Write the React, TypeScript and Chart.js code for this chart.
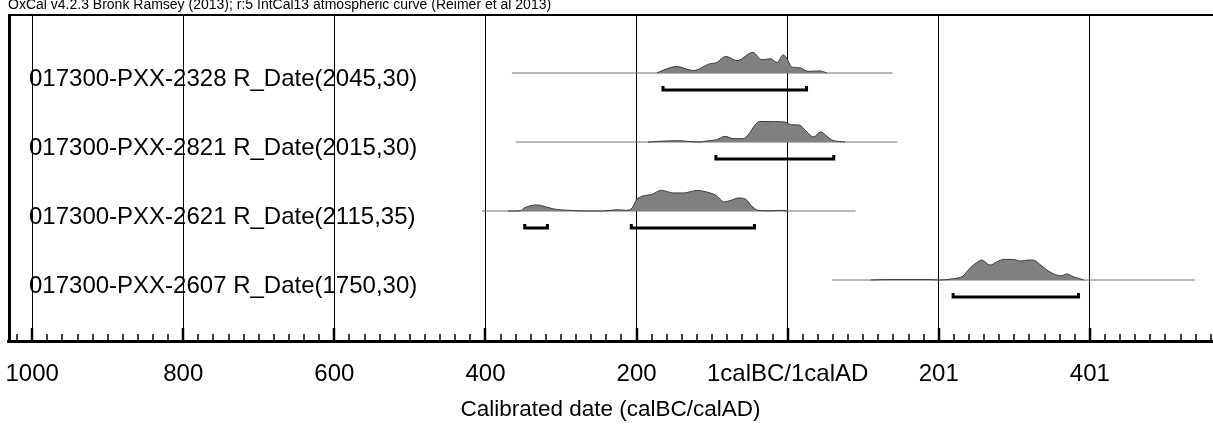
import React, { useEffect, useRef } from "react";
import { Chart, registerables } from "chart.js";

Chart.register(...registerables);

const FONT = '"Liberation Sans", Arial, Helvetica, sans-serif';

// ---------- text ----------
const headerText =
  "OxCal v4.2.3 Bronk Ramsey (2013); r:5 IntCal13 atmospheric curve (Reimer et al 2013)";
const axisTitle = "Calibrated date (calBC/calAD)";
const sampleLabels = [
  "017300-PXX-2328 R_Date(2045,30)",
  "017300-PXX-2821 R_Date(2015,30)",
  "017300-PXX-2621 R_Date(2115,35)",
  "017300-PXX-2607 R_Date(1750,30)",
];

// ---------- axis ticks (negative = calBC) ----------
const tickValues = [-1000, -800, -600, -400, -200, 0, 200, 400];
const tickLabels = ["1000", "800", "600", "400", "200", "1calBC/1calAD", "201", "401"];

// ---------- calibrated probability curves (year, relative probability) ----------
const years2328 = [-173, -160, -147, -125, -103, -94, -82, -67, -46, -34, -23, -14, -6, 0, 5, 16, 27, 43, 52];
const prob2328 = [0, 0.2, 0.31, 0.12, 0.44, 0.5, 0.79, 0.59, 0.98, 0.63, 0.68, 0.5, 0.86, 0.63, 0.29, 0.25, 0.08, 0.1, 0];

const years2821 = [-185, -160, -145, -129, -116, -107, -94, -83, -72, -59, -52, -43, -37, -19, -3, 1, 5, 15, 25, 34, 44, 52, 58, 69, 76];
const prob2821 = [0, 0.05, 0.06, 0.02, 0, 0.05, 0.11, 0.27, 0.16, 0.16, 0.35, 0.82, 0.98, 0.97, 0.95, 0.87, 0.82, 0.81, 0.5, 0.24, 0.48, 0.27, 0.11, 0.02, 0];

const years2621 = [-370, -354, -348, -332, -319, -310, -288, -266, -244, -226, -213, -206, -200, -193, -180, -167, -151, -138, -120, -109, -94, -84, -76, -65, -56, -48, -39, -23, -6, -1];
const prob2621 = [0, 0.01, 0.16, 0.29, 0.19, 0.1, 0.03, 0, 0, 0.06, 0.03, 0.14, 0.54, 0.7, 0.79, 0.98, 0.86, 0.86, 0.98, 0.92, 0.73, 0.43, 0.5, 0.62, 0.57, 0.25, 0.03, 0.01, 0.03, 0];

const years2607 = [110, 132, 188, 200, 219, 232, 241, 250, 257, 261, 268, 277, 286, 299, 308, 319, 325, 334, 343, 352, 363, 369, 378, 392];
const prob2607 = [0, 0.02, 0.02, 0, 0.06, 0.19, 0.55, 0.82, 0.95, 0.87, 0.71, 0.87, 0.98, 0.98, 0.9, 0.95, 0.95, 0.74, 0.48, 0.29, 0.2, 0.29, 0.16, 0];

// extent of the thin base line of each distribution
const lineStart = [-365, -360, -405, 59];
const lineEnd = [139, 145, 90, 539];

// 95.4% ranges
const ranges2328 = [[-165, 25]];
const ranges2821 = [[-95, 61]];
const ranges2621 = [[-348, -318], [-207, -44]];
const ranges2607 = [[219, 385]];

const curveYears = [years2328, years2821, years2621, years2607];
const curveProbs = [prob2328, prob2821, prob2621, prob2607];
const curveRanges = [ranges2328, ranges2821, ranges2621, ranges2607];

// ---------- layout constants ----------
const ROW_PX = 69;
const PEAK = 21 / ROW_PX;
const BRACKET_DROP = 17 / ROW_PX;
const BRACKET_TICK = 4 / ROW_PX;
const rowBase = [3, 2, 1, 0];

const oxcalPlugin = {
  id: "oxcalDecor",
  afterDatasetsDraw(chart: any) {
    const { ctx, chartArea: ca, scales } = chart;
    const y = scales.y;
    ctx.save();
    ctx.font = `24px ${FONT}`;
    ctx.fillStyle = "#000";
    ctx.textBaseline = "middle";
    ctx.textAlign = "left";
    sampleLabels.forEach((t, i) => {
      const py = y.getPixelForValue(rowBase[i]) + 6;
      ctx.fillText(t, ca.left + 21, py);
    });
    ctx.restore();
  },
  afterDraw(chart: any) {
    const { ctx, chartArea: ca, scales } = chart;
    const x = scales.x;
    ctx.save();
    ctx.strokeStyle = "#000";
    // top border
    ctx.lineWidth = 2;
    ctx.beginPath();
    ctx.moveTo(ca.left, ca.top + 1);
    ctx.lineTo(ca.right, ca.top + 1);
    ctx.stroke();
    // left border
    ctx.lineWidth = 3;
    ctx.beginPath();
    ctx.moveTo(ca.left + 1.5, ca.top);
    ctx.lineTo(ca.left + 1.5, ca.bottom + 1);
    ctx.stroke();
    // inward tick marks
    x.ticks.forEach((t: any) => {
      const px = Math.round(x.getPixelForValue(t.value));
      const major = tickValues.includes(t.value);
      ctx.lineWidth = major ? 2.5 : 1.5;
      ctx.beginPath();
      ctx.moveTo(px, ca.bottom);
      ctx.lineTo(px, ca.bottom - (major ? 13 : 7));
      ctx.stroke();
    });
    ctx.restore();
  },
};

export default function App() {
  const ref = useRef<HTMLCanvasElement>(null);

  useEffect(() => {
    if (!ref.current) return;
    const datasets: any[] = [];

    curveYears.forEach((yrs, i) => {
      const base = rowBase[i];
      // distribution
      datasets.push({
        type: "line",
        data: yrs.map((yr, k) => ({ x: yr, y: base + curveProbs[i][k] * PEAK })),
        borderColor: "#3a3a3a",
        borderWidth: 1,
        backgroundColor: "#808080",
        fill: { value: base },
        pointRadius: 0,
        cubicInterpolationMode: "monotone",
        order: 1,
      });
      // base line
      datasets.push({
        type: "line",
        data: [
          { x: lineStart[i], y: base },
          { x: lineEnd[i], y: base },
        ],
        borderColor: "#707070",
        borderWidth: 1,
        pointRadius: 0,
        fill: false,
        order: 2,
      });
      // range brackets
      curveRanges[i].forEach(([a, b]) => {
        const by = base - BRACKET_DROP;
        datasets.push({
          type: "line",
          data: [
            { x: a, y: by + BRACKET_TICK },
            { x: a, y: by },
            { x: b, y: by },
            { x: b, y: by + BRACKET_TICK },
          ],
          borderColor: "#000",
          borderWidth: 3,
          borderJoinStyle: "miter",
          pointRadius: 0,
          fill: false,
          order: 0,
        });
      });
    });

    const chart = new Chart(ref.current, {
      type: "line",
      data: { datasets },
      options: {
        animation: false,
        responsive: false,
        devicePixelRatio: 1,
        layout: { padding: { left: 8, right: 0, top: 0, bottom: 0 } },
        plugins: {
          legend: { display: false },
          tooltip: { enabled: false },
          title: {
            display: true,
            text: headerText,
            align: "start",
            color: "#000",
            font: { family: FONT, size: 14, weight: "normal", lineHeight: 1 },
            padding: { top: -2, bottom: 2 },
          },
        },
        scales: {
          x: {
            type: "linear",
            position: "bottom",
            min: -1032,
            max: 563,
            z: 1,
            grid: {
              display: true,
              drawTicks: false,
              drawOnChartArea: true,
              lineWidth: 1,
              color: (c: any) => (c.tick && tickValues.includes(c.tick.value) ? "#000" : "rgba(0,0,0,0)"),
            },
            border: { display: true, color: "#000", width: 3 },
            ticks: {
              stepSize: 20,
              includeBounds: false,
              autoSkip: false,
              maxRotation: 0,
              minRotation: 0,
              padding: 0,
              color: "#000",
              font: { family: FONT, size: 24, lineHeight: 66 / 24 },
              callback: (v: any) => {
                const idx = tickValues.indexOf(Number(v));
                return idx >= 0 ? tickLabels[idx] : "";
              },
            },
            title: {
              display: true,
              text: axisTitle,
              color: "#000",
              font: { family: FONT, size: 22.5, lineHeight: 6 / 22.5 },
              padding: { top: 0, bottom: 17 },
            },
          },
          y: {
            type: "linear",
            display: false,
            min: -(61 / ROW_PX),
            max: 3 + 59 / ROW_PX,
          },
        },
      },
      plugins: [oxcalPlugin],
    } as any);

    return () => chart.destroy();
  }, []);

  return (
    <div style={{ position: "absolute", left: 0, top: 0, width: 1213, height: 430, background: "#fff" }}>
      <canvas ref={ref} width={1213} height={430} style={{ display: "block" }} />
    </div>
  );
}
